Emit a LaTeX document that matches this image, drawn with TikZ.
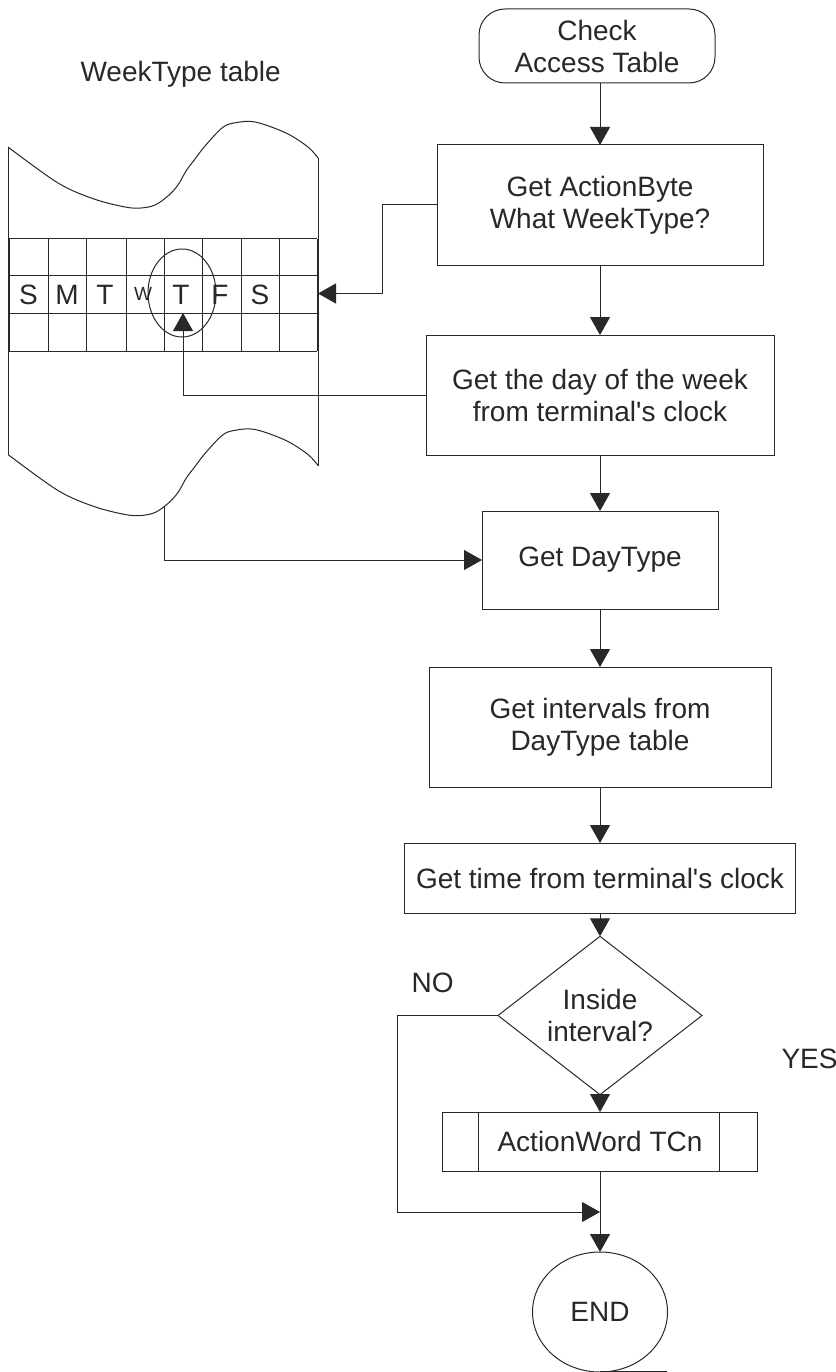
\documentclass[tikz,border=0pt]{standalone}
\usepackage{fontspec}
\setmainfont{Liberation Sans}[Ligatures=TeXOff]
\usetikzlibrary{arrows.meta,shapes.geometric}
\definecolor{ink}{RGB}{38,40,42}
\begin{document}
\begin{tikzpicture}[x=1pt,y=-1pt,
  every node/.style={text=ink, font=\fontsize{28}{32}\selectfont},
  line/.style={draw=ink, line width=1pt},
  arr/.style={line, -{Triangle[length=18pt,width=20pt]}},
  stepbox/.style={line, rectangle, inner sep=0pt, outer sep=0pt, align=center},
  terminal/.style={line, rectangle, rounded corners=26pt, inner sep=0pt, outer sep=0pt, align=center},
  decision/.style={line, diamond, inner sep=0pt, outer sep=0pt, align=center},
  stopnode/.style={line, ellipse, inner sep=0pt, outer sep=0pt},
  daycell/.style={anchor=base},
]
\useasboundingbox (0,0) rectangle (835,1372);

% ---------- WeekType table ----------
\node[anchor=base west] (wt) at (77,82) {WeekType table};

% outline: two wavy edges joined by straight sides
\draw[line] (8,147) -- (8,454.5);
\draw[line] (318,158) -- (318,465.5);
\foreach \dy in {0,307.5}
  \draw[line, shift={(8,147+\dy)}] plot[smooth, tension=0.55] coordinates
    {(0,0) (50,36) (86,52) (117,60) (133,61) (147,58) (160,49) (170,38)
     (178,24) (187,12) (197,-1) (214,-19) (226,-24) (247,-25) (278,-14)
     (300,0) (310,11)};

% grid of days
\foreach \yy in {239,275,313,351}
  \draw[line] (9,\yy) -- (317,\yy);
\foreach \xx in {9,48,86,126,164,202,241,279,317}
  \draw[line] (\xx,239) -- (\xx,351);

\node[daycell] (d1) at (28.5,304) {S};
\node[daycell] (d2) at (67,304) {M};
\node[daycell] (d3) at (105,304) {T};
\node[daycell, font=\fontsize{19}{22}\selectfont] (d4) at (143,300) {W};
\node[daycell] (d5) at (181,304) {T};
\node[daycell] (d6) at (220,304) {F};
\node[daycell] (d7) at (260,304) {S};

\node[stopnode, minimum width=68pt, minimum height=88pt] (sel) at (182,293) {};

\coordinate (grid-e) at (318,293.5);
\coordinate (tcell) at (183,313);
\coordinate (tbl-out) at (164,507);

% ---------- flow chart ----------
\node[terminal, minimum width=236pt, minimum height=74pt] (start) at (597,46) {Check\\Access Table};
\node[stepbox, minimum width=326pt, minimum height=120pt] (b1) at (600,205) {Get ActionByte\\What WeekType?};
\node[stepbox, minimum width=348pt, minimum height=120pt] (b2) at (600,395) {Get the day of the week\\from terminal's clock};
\node[stepbox, minimum width=236pt, minimum height=98pt] (b3) at (600,560) {Get DayType};
\node[stepbox, minimum width=342pt, minimum height=120pt] (b4) at (600,727) {Get intervals from\\DayType table};
\node[stepbox, minimum width=391pt, minimum height=70pt] (b5) at (600,878) {Get time from terminal's clock};
\node[decision, minimum width=204pt, minimum height=119pt] (dia) at (600,1015.5) {Inside\\interval?};
\node[stepbox, minimum width=315pt, minimum height=59pt] (b6) at (600,1141.5) {ActionWord TCn};
\draw[line] ([xshift=36pt]b6.north west) -- ([xshift=36pt]b6.south west);
\draw[line] ([xshift=-38pt]b6.north east) -- ([xshift=-38pt]b6.south east);
\node[stopnode, minimum width=135pt, minimum height=120pt] (endn) at (600,1312) {END};
\draw[line] ([yshift=1pt]endn.south) -- ++(67,0);

\node[anchor=base west] (no) at (408,992) {NO};
\node[anchor=base west] (yes) at (778,1068) {YES};

\coordinate (join) at (600,1212);

% ---------- connectors ----------
\draw[arr] (start.south -| b1.north) -- (b1.north);
\draw[arr] (b1.south) -- (b2.north);
\draw[arr] (b1.west) -- ++(-55,0) |- (grid-e);
\draw[arr] (b2.west) -| (tcell);
\draw[arr] (b2.south) -- (b3.north);
\draw[arr] (tbl-out) |- (b3.west);
\draw[arr] (b3.south) -- (b4.north);
\draw[arr] (b4.south) -- (b5.north);
\draw[arr] (b5.south) -- (dia.north);
\draw[arr] (dia.south) -- (b6.north);
\draw[arr] (dia.west) -- ++(-101,0) |- (join);
\draw[arr] (b6.south) -- (endn.north);
\end{tikzpicture}
\end{document}
